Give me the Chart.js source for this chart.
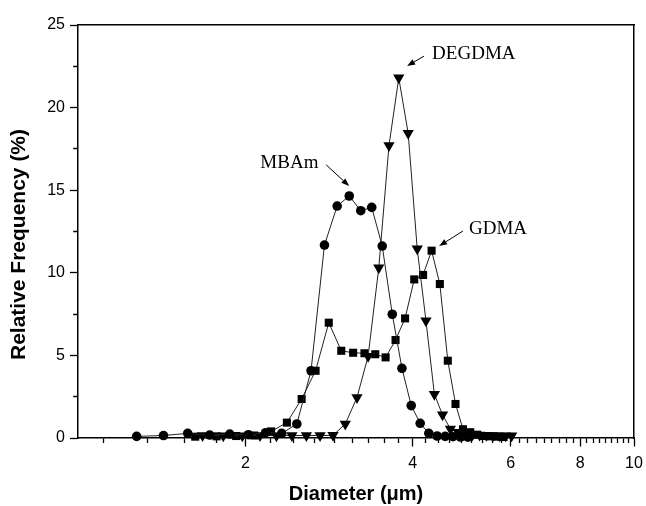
<!DOCTYPE html>
<html><head><meta charset="utf-8">
<script src="https://cdn.jsdelivr.net/npm/chart.js@4.4.1/dist/chart.umd.min.js"></script>
<style>html,body{margin:0;padding:0;background:#fff;} canvas{display:block;}</style>
</head><body>
<canvas id="c" width="646" height="506"></canvas>
<script>
// ---- data ----
const mbamX = [1.275,1.425,1.575,1.725,1.875,2.025,2.175,2.325,2.475,2.625,2.775,2.925,3.075,3.225,3.375,3.525,3.675,3.825,3.975,4.125,4.275,4.425,4.575,4.725,4.875,5.025];
const mbamY = [0.1,0.15,0.28,0.18,0.24,0.2,0.32,0.28,0.85,4.07,11.68,14.04,14.65,13.76,13.96,11.62,7.49,4.22,1.96,0.89,0.28,0.12,0.1,0.08,0.06,0.05];

const degdmaX = [1.675,1.825,1.975,2.125,2.275,2.425,2.575,2.725,2.875,3.025,3.175,3.325,3.475,3.625,3.775,3.925,4.075,4.225,4.375,4.525,4.675,4.825,4.975,5.125,5.275,5.425,5.575,5.725,5.875,6.025];
const degdmaY = [0.15,0.14,0.13,0.15,0.14,0.15,0.15,0.15,0.16,0.85,2.45,4.95,10.3,17.7,21.8,18.45,11.45,7.1,2.65,1.4,0.55,0.35,0.25,0.2,0.18,0.16,0.15,0.14,0.13,0.13];

const gdmaX = [1.625,1.775,1.925,2.075,2.225,2.375,2.525,2.675,2.825,2.975,3.125,3.275,3.425,3.575,3.725,3.875,4.025,4.175,4.325,4.475,4.625,4.775,4.925,5.075,5.225,5.375,5.525,5.675,5.825];
const gdmaY = [0.08,0.1,0.12,0.15,0.4,0.93,2.36,4.07,6.98,5.28,5.16,5.13,5.07,4.88,5.93,7.24,9.6,9.87,11.34,9.32,4.68,2.06,0.53,0.35,0.2,0.12,0.1,0.08,0.06];

// axis ticks
const xMajorTicks = [2,4,6,8,10];
const xTickLabels = ['2','4','6','8','10'];
const yMajorTicks = [0,5,10,15,20,25];

// annotations (data units)
const annoLabels = ['MBAm','DEGDMA','GDMA'];
const annoTextX = [2.128,4.334,5.05];
const annoTextY = [16.65,23.24,12.65];
const arrowFromX = [2.796,4.193,4.925];
const arrowFromY = [16.53,23.12,12.53];
const arrowToX = [3.074,3.908,4.461];
const arrowToY = [15.25,22.52,11.62];

// minor x ticks every 2/9 (as in the original Origin axis)
const xAllTicks = [];
for (let k = 5; k <= 45; k++) xAllTicks.push(+(k * 2 / 9).toFixed(4));

const toPts = (xs, ys) => xs.map((v, i) => ({x: v, y: ys[i]}));
const isMajorX = v => xMajorTicks.some(m => Math.abs(m - v) < 1e-3);

const FONT = "'Liberation Sans', Arial, sans-serif";

const annoPlugin = {
  id: 'annos',
  afterDatasetsDraw(chart) {
    const {ctx} = chart; const xs = chart.scales.x, ys = chart.scales.y;
    ctx.save();
    ctx.fillStyle = '#000'; ctx.strokeStyle = '#000';
    ctx.font = "19px 'Liberation Serif', 'Times New Roman', serif";
    ctx.textBaseline = 'middle'; ctx.textAlign = 'left';
    annoLabels.forEach((t, i) => {
      ctx.fillText(t, xs.getPixelForValue(annoTextX[i]), ys.getPixelForValue(annoTextY[i]));
      const x1 = xs.getPixelForValue(arrowFromX[i]), y1 = ys.getPixelForValue(arrowFromY[i]);
      const x2 = xs.getPixelForValue(arrowToX[i]), y2 = ys.getPixelForValue(arrowToY[i]);
      const a = Math.atan2(y2 - y1, x2 - x1), head = 8, hw = 3;
      const bx = x2 - head * Math.cos(a), by = y2 - head * Math.sin(a);
      ctx.lineWidth = 1;
      ctx.beginPath(); ctx.moveTo(x1, y1); ctx.lineTo(bx, by); ctx.stroke();
      ctx.beginPath(); ctx.moveTo(x2, y2);
      ctx.lineTo(bx + hw * Math.sin(a), by - hw * Math.cos(a));
      ctx.lineTo(bx - hw * Math.sin(a), by + hw * Math.cos(a));
      ctx.closePath(); ctx.fill();
    });
    ctx.restore();
  }
};

const titleShift = {
  id: 'titleShift',
  beforeDraw(chart) {
    const s = chart.scales.y;
    if (!s.__shifted) {
      const orig = s.drawTitle;
      s.drawTitle = function () { const c = this.ctx; c.save(); c.translate(0, 13); orig.call(this); c.restore(); };
      s.__shifted = true;
    }
  }
};

const common = {borderColor: '#222', borderWidth: 1, pointBackgroundColor: '#000', pointBorderColor: '#000', pointBorderWidth: 0, tension: 0, clip: false, fill: false};

new Chart(document.getElementById('c'), {
  type: 'line',
  data: {
    datasets: [
      Object.assign({label: 'MBAm', data: toPts(mbamX, mbamY), pointStyle: 'circle', pointRadius: 4.8}, common),
      Object.assign({label: 'DEGDMA', data: toPts(degdmaX, degdmaY), pointStyle: 'triangle', pointRotation: 180, pointRadius: 6.5}, common),
      Object.assign({label: 'GDMA', data: toPts(gdmaX, gdmaY), pointStyle: 'rect', pointRadius: 5.7}, common)
    ]
  },
  options: {
    responsive: false,
    animation: false,
    layout: {padding: 0},
    plugins: {legend: {display: false}, tooltip: {enabled: false}},
    scales: {
      x: {
        type: 'logarithmic', position: 'bottom', min: 1, max: 10,
        afterBuildTicks: s => { s.ticks = xAllTicks.map(v => ({value: v})); },
        afterFit: s => { s.height = 68; },
        ticks: {
          autoSkip: false, maxRotation: 0, minRotation: 0, padding: 3,
          color: '#000', font: {family: FONT, size: 16},
          callback: v => { const i = xMajorTicks.findIndex(m => Math.abs(m - v) < 1e-3); return i >= 0 ? xTickLabels[i] : ''; }
        },
        grid: {
          drawOnChartArea: false, tickLength: 13, tickColor: '#000', tickWidth: 1.3,
          tickBorderDash: ctx => (ctx.tick && isMajorX(ctx.tick.value)) ? [8, 100] : [4.5, 100]
        },
        border: {display: true, color: '#000', width: 1.5},
        title: {display: true, text: 'Diameter (\u03bcm)', color: '#000', font: {family: FONT, size: 20, weight: 'bold'}, padding: {top: 0, bottom: 0}}
      },
      y: {
        type: 'linear', position: 'left', min: 0, max: 25,
        afterFit: s => { s.width = 78; },
        ticks: {
          stepSize: 2.5, padding: 5, color: '#000', font: {family: FONT, size: 16},
          callback: v => yMajorTicks.includes(v) ? String(v) : ''
        },
        grid: {
          drawOnChartArea: false, tickLength: 8, tickColor: '#000', tickWidth: 1.3,
          tickBorderDash: ctx => (ctx.tick && yMajorTicks.includes(ctx.tick.value)) ? [] : [0, 3.2, 4.5, 100]
        },
        border: {display: true, color: '#000', width: 1.5},
        title: {display: true, text: 'Relative Frequency (%)', color: '#000', font: {family: FONT, size: 21, weight: 'bold'}, padding: {top: 7, bottom: 0}}
      },
      x2: {
        type: 'linear', position: 'top', axis: 'x',
        afterFit: s => { s.height = 25; },
        grid: {display: false, drawTicks: false}, ticks: {display: false},
        border: {display: true, color: '#000', width: 1.5}
      },
      y2: {
        type: 'linear', position: 'right', axis: 'y',
        afterFit: s => { s.width = 12; },
        grid: {display: false, drawTicks: false}, ticks: {display: false},
        border: {display: true, color: '#000', width: 1.5}
      }
    }
  },
  plugins: [annoPlugin, titleShift]
});
</script>
</body></html>
